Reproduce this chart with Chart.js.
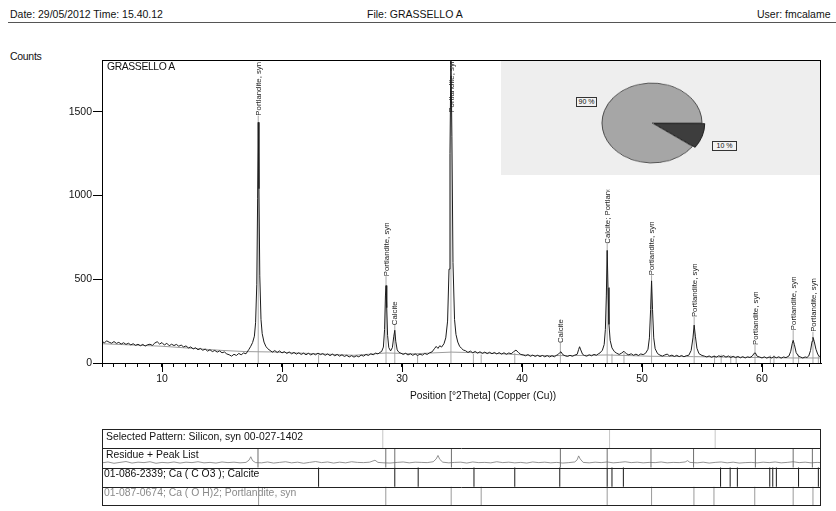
<!DOCTYPE html>
<html>
<head>
<meta charset="utf-8">
<script src="https://cdn.jsdelivr.net/npm/chart.js@4.4.1/dist/chart.umd.min.js"></script>
<style>
  html, body { margin:0; padding:0; background:#fff; }
  body { width:836px; height:511px; position:relative; overflow:hidden; font-family:"Liberation Sans", Arial, sans-serif; color:#111; }
  .t { position:absolute; white-space:nowrap; line-height:1; }
  canvas { position:absolute; }
</style>
</head>
<body>
<div class="t" style="left:10px;top:9px;font-size:10.5px;">Date: 29/05/2012 Time: 15.40.12</div>
<div class="t" style="left:367px;top:9px;font-size:10.5px;">File: GRASSELLO A</div>
<div class="t" style="left:757px;top:9px;font-size:10.5px;">User: fmcalame</div>
<div style="position:absolute;left:8px;top:22px;width:828px;height:0;border-top:1.5px solid #555;"></div>
<div class="t" style="left:10px;top:51px;font-size:10.5px;letter-spacing:-0.3px;">Counts</div>

<div id="pieBox" style="position:absolute;left:501px;top:61px;width:320px;height:114px;background:#eeeeee;"></div>
<canvas id="main" width="836" height="420" style="left:0;top:0;"></canvas>
<canvas id="pie" width="140" height="140" style="left:582px;top:53px;transform:scaleY(0.8);transform-origin:50% 50%;"></canvas>
<div class="t" style="left:576px;top:97px;width:19px;height:8px;border:1px solid #333;background:#f2f2f2;font-size:7px;text-align:center;line-height:8px;">90 %</div>
<div class="t" style="left:712px;top:141px;width:23px;height:8px;border:1px solid #333;background:#f2f2f2;font-size:7px;text-align:center;line-height:8px;">10 %</div>
<div class="t" style="left:107px;top:62px;font-size:10.4px;letter-spacing:-0.4px;">GRASSELLO A</div>
<div class="t" style="left:410px;top:391px;font-size:10.2px;">Position [°2Theta] (Copper (Cu))</div>

<canvas id="rows" width="836" height="91" style="left:0;top:420px;"></canvas>
<div class="t" style="left:106px;top:432px;font-size:10.4px;">Selected Pattern: Silicon, syn 00-027-1402</div>
<div class="t" style="left:106px;top:450px;font-size:10.4px;">Residue + Peak List</div>
<div class="t" style="left:104px;top:469px;font-size:10.4px;">01-086-2339; Ca ( C O3 ); Calcite</div>
<div class="t" style="left:104px;top:488px;font-size:10.4px;color:#8a8a8a;">01-087-0674; Ca ( O H)2; Portlandite, syn</div>

<script>
// ---------------- DATA ----------------
// measured scan: [position °2Theta, counts]
const scanPattern = [
 [5.0,128],[5.2,121],[5.4,132],[5.6,124],[5.8,118],[6.0,128],[6.2,117],[6.4,123],[6.6,113],[6.8,121],
 [7.0,111],[7.2,118],[7.4,108],[7.6,115],[7.8,105],[8.0,112],[8.2,103],[8.4,111],[8.6,101],[8.8,109],
 [9.0,112],[9.2,105],[9.4,119],[9.6,127],[9.8,113],[10.0,122],[10.2,107],[10.4,118],[10.6,103],[10.8,112],
 [11.0,104],[11.2,111],[11.4,100],[11.6,107],[11.8,96],[12.0,102],[12.2,90],[12.4,96],[12.6,84],[12.8,91],
 [13.0,79],[13.2,87],[13.4,76],[13.6,83],[13.8,71],[14.0,79],[14.2,68],[14.4,75],[14.6,65],[14.8,72],
 [15.0,61],[15.2,66],[15.4,54],[15.6,49],[15.8,41],[16.0,52],[16.2,45],[16.4,57],[16.6,49],[16.8,60],[17.0,55],
 [17.1,66],[17.25,82],[17.4,100],[17.55,122],[17.7,160],[17.8,240],[17.9,470],[17.97,980],[18.02,1436],
 [18.08,1040],[18.15,520],[18.25,260],[18.35,175],[18.5,125],[18.65,100],[18.8,86],
 [19.0,75],[19.2,65],[19.4,74],[19.6,63],[19.8,72],[20.0,60],[20.2,68],[20.4,57],[20.6,66],[20.8,55],
 [21.0,63],[21.2,53],[21.4,61],[21.6,51],[21.8,59],[22.0,49],[22.2,58],[22.4,48],[22.6,56],[22.8,49],
 [23.0,59],[23.2,50],[23.4,56],[23.6,46],[23.8,54],[24.0,44],[24.2,53],[24.4,43],[24.6,51],[24.8,41],
 [25.0,49],[25.2,39],[25.4,46],[25.6,36],[25.8,44],[26.0,35],[26.2,43],[26.4,37],[26.6,47],[26.8,41],
 [27.0,51],[27.2,45],[27.4,55],[27.6,49],[27.8,59],[28.0,54],[28.15,63],
 [28.3,68],[28.45,95],[28.55,200],[28.62,400],[28.67,462],[28.73,330],[28.8,165],[28.9,92],[29.05,72],
 [29.2,92],[29.32,160],[29.4,195],[29.48,130],[29.6,78],[29.75,63],
 [29.9,59],[30.1,51],[30.3,58],[30.5,48],[30.7,55],[30.9,46],[31.1,54],[31.3,45],[31.5,53],[31.7,47],
 [31.9,57],[32.1,51],[32.3,61],[32.5,66],[32.7,85],[32.85,99],[33.0,87],[33.15,103],
 [33.3,95],[33.5,115],[33.65,150],[33.8,250],[33.92,560],[34.0,1250],[34.08,1860],[34.16,1350],[34.25,600],
 [34.38,260],[34.5,170],[34.65,125],[34.8,100],[34.95,88],[35.1,78],
 [35.3,73],[35.5,63],[35.7,71],[35.9,61],[36.1,69],[36.3,59],[36.5,67],[36.7,57],[36.9,65],[37.1,56],
 [37.3,64],[37.5,55],[37.7,63],[37.9,54],[38.1,62],[38.3,53],[38.5,61],[38.7,52],[38.9,60],[39.1,55],
 [39.3,67],[39.5,77],[39.7,63],[39.9,51],[40.1,48],[40.3,43],[40.5,50],[40.7,40],[40.9,47],[41.1,39],
 [41.3,46],[41.5,38],[41.7,45],[41.9,37],[42.1,44],[42.3,36],[42.5,43],[42.7,37],[42.85,45],
 [43.0,50],[43.15,62],[43.25,67],[43.4,50],[43.6,43],[43.8,39],[44.0,46],[44.2,40],[44.4,47],
 [44.6,52],[44.72,80],[44.8,97],[44.9,78],[45.05,52],
 [45.2,45],[45.4,41],[45.6,49],[45.8,43],[46.0,51],[46.2,46],[46.35,54],
 [46.5,60],[46.7,76],[46.85,110],[46.95,200],[47.03,400],[47.1,672],[47.17,450],[47.25,230],[47.35,135],
 [47.5,90],[47.7,68],[47.9,58],
 [48.1,51],[48.3,59],[48.5,70],[48.7,55],[48.9,49],[49.1,55],[49.3,46],[49.5,53],[49.7,45],[49.9,54],[50.1,50],
 [50.3,58],[50.5,82],[50.62,150],[50.72,320],[50.8,490],[50.88,320],[50.98,150],[51.1,85],[51.3,56],
 [51.5,47],[51.7,41],[51.9,48],[52.1,53],[52.3,42],[52.5,47],[52.7,39],[52.9,46],[53.1,38],[53.3,45],
 [53.5,37],[53.7,44],
 [53.9,46],[54.1,75],[54.25,150],[54.35,226],[54.45,160],[54.58,88],[54.75,56],[55.0,45],
 [55.2,41],[55.4,36],[55.6,42],[55.8,34],[56.0,41],[56.2,35],[56.4,43],[56.6,37],[56.8,44],[57.0,35],
 [57.2,42],[57.4,33],[57.6,40],[57.8,32],[58.0,39],[58.2,31],[58.4,38],[58.6,30],[58.8,37],[59.0,33],
 [59.2,42],[59.35,58],[59.45,60],[59.6,40],
 [59.8,36],[60.0,30],[60.2,37],[60.4,29],[60.6,36],[60.8,30],[61.0,38],[61.2,31],[61.4,37],[61.6,29],
 [61.8,36],[62.0,32],
 [62.25,42],[62.4,70],[62.52,115],[62.6,135],[62.7,110],[62.85,62],[63.05,40],
 [63.2,36],[63.4,30],[63.6,36],[63.75,33],
 [63.9,42],[64.05,75],[64.18,130],[64.25,153],[64.35,130],[64.5,82],[64.65,52],[64.8,38],[64.95,30]
];

// fitted background line
const backgroundPos    = [5, 10, 15, 17, 19, 23, 26, 28.7, 31, 34.1, 37, 41, 44, 47.1, 50.8, 54.3, 58, 62.6, 65];
const backgroundCounts = [115, 100, 75, 68, 66, 55, 46, 60, 55, 65, 60, 45, 44, 48, 40, 38, 34, 30, 30];

// identified peaks and their labels
const peakPositions  = [18.02, 28.67, 29.4, 34.08, 43.2, 47.1, 50.8, 54.35, 59.42, 62.6, 64.25];
const peakLabels     = ["Portlandite, syn", "Portlandite, syn", "Calcite", "Portlandite, syn", "Calcite",
                        "Calcite; Portlandite, syn", "Portlandite, syn", "Portlandite, syn",
                        "Portlandite, syn", "Portlandite, syn", "Portlandite, syn"];
const labelBaseCounts = [1476, 518, 226, 1494, 119, 712, 524, 274, 107, 196, 186];

// short reference sticks on the scan
const refStickPositions = [23.05, 31.3, 35.95, 36.6, 39.4, 47.5, 48.5, 56.05, 56.6, 57.4, 57.85, 60.7, 61.0, 63.05, 64.7];
const refStickCounts    = [50, 50, 55, 50, 60, 55, 60, 45, 50, 45, 40, 45, 45, 50, 50];

// phase quantification (pie)
const phaseNames  = ["Portlandite, syn", "Calcite"];
const phaseShares = [90, 10];

// pattern list rows
const siliconLines     = [28.4, 47.3, 56.1];
const peakListLines    = [18.0, 28.65, 29.4, 34.12, 43.2, 47.1, 50.75, 54.3, 59.45, 62.6, 64.2];
const calciteLines     = [23.05, 29.4, 31.35, 36.0, 39.4, 43.15, 47.1, 47.5, 48.45, 56.55, 57.35, 57.95, 60.65, 60.9, 61.2, 63.05, 64.7];
const portlanditeLines = [18.05, 28.65, 34.1, 36.6, 47.1, 50.8, 54.33, 56.0, 59.4, 62.6, 64.25];

// residue trace: [position, counts]
const residuePattern = [
 [5,10],[5.5,14],[6,8],[6.5,12],[7,16],[7.5,9],[8,13],[8.5,11],[9,15],[9.5,8],[10,12],[10.5,10],[11,14],
 [11.5,9],[12,13],[12.5,11],[13,15],[13.5,10],[14,12],[14.5,9],[15,14],[15.5,11],[16,13],[16.5,10],[17,12],
 [17.25,22],[17.4,38],[17.55,20],[17.8,11],[18.3,10],[18.8,14],[19.3,9],[19.8,12],[20.3,15],[20.8,10],
 [21.3,13],[21.8,8],[22.3,12],[22.8,16],[23.3,11],[23.8,14],[24.3,9],[24.8,13],[25.3,10],[25.8,15],
 [26.3,12],[26.8,11],[27.3,13],[27.75,22],[28.0,12],[28.5,10],[29.0,9],[29.6,12],[30.1,14],[30.6,10],
 [31.1,13],[31.6,12],[32.1,11],[32.6,15],[32.85,28],[33.0,44],[33.15,26],[33.4,13],[33.9,10],[34.4,12],
 [34.9,13],[35.4,9],[35.9,14],[36.4,11],[36.9,12],[37.4,10],[37.9,15],[38.4,11],[38.9,13],[39.4,10],
 [39.9,12],[40.4,9],[40.9,14],[41.4,11],[41.9,13],[42.4,10],[42.9,12],[43.4,9],[43.9,11],[44.4,14],
 [44.6,24],[44.72,42],[44.85,28],[45.1,12],[45.6,10],[46.1,13],[46.6,11],[47.1,14],[47.6,10],[48.1,12],
 [48.6,15],[49.1,11],[49.6,13],[50.1,10],[50.6,12],[51.1,11],[51.6,14],[52.1,10],[52.6,12],[53.1,11],
 [53.6,14],[53.8,20],[54.0,12],[54.6,10],[55.1,13],[55.6,9],[56.1,12],[56.6,14],[57.1,10],[57.6,13],
 [58.1,9],[58.6,11],[59.1,12],[59.6,10],[60.1,13],[60.6,11],[61.1,14],[61.6,10],[62.1,12],[62.6,15],
 [63.1,11],[63.6,13],[64.1,10],[64.6,12],[64.9,11]
];

const xTickStep = 1, xLabelStep = 10;
const yTickValues = [0, 500, 1000, 1500];
const X_MIN = 5, X_MAX = 64.92, Y_MIN = 0, Y_MAX = 1808;

// ---------------- CHARTS ----------------
const FONT = '"Liberation Sans", Arial, sans-serif';
Chart.defaults.font.family = FONT;

function sticks(positions, lo, hiArr) {
  const out = [];
  positions.forEach((p, i) => {
    const hi = Array.isArray(hiArr) ? hiArr[i] : hiArr;
    out.push({x: p, y: lo}, {x: p, y: hi}, {x: p, y: null});
  });
  return out;
}

const mainPlugin = {
  id: 'mainDecor',
  afterDatasetsDraw(chart) {
    const {ctx, chartArea: a, scales: {x, y}} = chart;
    ctx.save();
    // frame
    ctx.strokeStyle = '#000'; ctx.lineWidth = 1;
    ctx.strokeRect(Math.round(a.left) + 0.5, Math.round(a.top) + 0.5, Math.round(a.right - a.left) - 1, Math.round(a.bottom - a.top));
    // major ticks
    for (let v = 10; v <= 60; v += xLabelStep) {
      const px = Math.round(x.getPixelForValue(v)) + 0.5;
      ctx.beginPath(); ctx.moveTo(px, a.bottom); ctx.lineTo(px, a.bottom + 9); ctx.stroke();
    }
    // peak labels
    ctx.beginPath(); ctx.rect(a.left, a.top, a.right - a.left, a.bottom - a.top); ctx.clip();
    ctx.font = '7.8px ' + FONT; ctx.fillStyle = '#1a1a1a';
    ctx.textAlign = 'left'; ctx.textBaseline = 'middle';
    peakPositions.forEach((p, i) => {
      const px = x.getPixelForValue(p), py = y.getPixelForValue(labelBaseCounts[i]);
      ctx.save();
      ctx.translate(px + 0.5, py);
      ctx.rotate(-Math.PI / 2);
      ctx.beginPath(); ctx.rect(0, -6, 54, 12); ctx.clip();
      ctx.fillText(peakLabels[i], 0, 0);
      ctx.restore();
    });
    ctx.restore();
  }
};

new Chart(document.getElementById('main'), {
  type: 'line',
  data: {
    datasets: [
      { label: 'Peak markers', data: sticks(peakPositions, 0, labelBaseCounts).concat(sticks(refStickPositions, 0, refStickCounts)),
        borderColor: '#a9a9a9', borderWidth: 1, pointRadius: 0, spanGaps: false, order: 3 },
      { label: 'Background', data: backgroundPos.map((p, i) => ({x: p, y: backgroundCounts[i]})),
        borderColor: '#9c9c9c', borderWidth: 1, pointRadius: 0, order: 2 },
      { label: 'GRASSELLO A', data: scanPattern.map(([p, c]) => ({x: p, y: c})),
        borderColor: '#1c1c1c', borderWidth: 1, pointRadius: 0, tension: 0, order: 1 }
    ]
  },
  options: {
    responsive: false, animation: false, events: [],
    layout: { padding: { top: 60, right: 15, left: 0, bottom: 0 } },
    plugins: { legend: { display: false }, tooltip: { enabled: false } },
    scales: {
      x: {
        type: 'linear', min: X_MIN, max: X_MAX,
        afterFit: s => { s.height = 57; },
        border: { display: true, color: '#000', width: 1 },
        grid: { drawOnChartArea: false, drawTicks: true, tickLength: 4, color: '#000', lineWidth: 1 },
        ticks: { stepSize: xTickStep, includeBounds: false, autoSkip: false, maxRotation: 0, padding: 6,
                 color: '#111', font: { size: 10.5, family: FONT },
                 callback: v => (v % xLabelStep === 0 ? String(v) : '') }
      },
      y: {
        type: 'linear', min: Y_MIN, max: Y_MAX,
        afterFit: s => { s.width = 102; },
        afterBuildTicks: s => { s.ticks = yTickValues.map(v => ({ value: v })); },
        border: { display: true, color: '#000', width: 1 },
        grid: { drawOnChartArea: false, drawTicks: true, tickLength: 9, color: '#000', lineWidth: 1 },
        ticks: { padding: 1, color: '#111', font: { size: 10.5, family: FONT }, callback: v => String(v) }
      }
    }
  },
  plugins: [mainPlugin]
});

new Chart(document.getElementById('pie'), {
  type: 'pie',
  data: { labels: phaseNames, datasets: [{ data: phaseShares,
    backgroundColor: ['#a6a6a6', '#3d3d3d'], borderColor: ['#4a4a4a', '#1e1e1e'], borderWidth: 1,
    offset: [0, 8], radius: 50 }] },
  options: { responsive: false, animation: false, events: [], rotation: 126, radius: 50,
    layout: { padding: 0 },
    plugins: { legend: { display: false }, tooltip: { enabled: false } } }
});

const rowsPlugin = {
  id: 'rowsDecor',
  afterDatasetsDraw(chart) {
    const {ctx, chartArea: a, scales: {y}} = chart;
    ctx.save();
    ctx.strokeStyle = '#222'; ctx.lineWidth = 1;
    [1, 2, 3].forEach(v => {
      const py = Math.round(y.getPixelForValue(v)) + 0.5;
      ctx.beginPath(); ctx.moveTo(a.left, py); ctx.lineTo(a.right, py); ctx.stroke();
    });
    ctx.strokeRect(Math.round(a.left) + 0.5, Math.round(a.top) + 0.5, Math.round(a.right - a.left) - 1, Math.round(a.bottom - a.top) - 1);
    ctx.restore();
  }
};

new Chart(document.getElementById('rows'), {
  type: 'line',
  data: {
    datasets: [
      { label: 'Silicon', data: sticks(siliconLines, 3, 4), borderColor: '#c6c6c6', borderWidth: 1, pointRadius: 0, spanGaps: false },
      { label: 'Peak List', data: sticks(peakListLines, 2, 3), borderColor: '#6e6e6e', borderWidth: 1, pointRadius: 0, spanGaps: false },
      { label: 'Calcite', data: sticks(calciteLines, 1, 2), borderColor: '#1a1a1a', borderWidth: 1, pointRadius: 0, spanGaps: false },
      { label: 'Portlandite', data: sticks(portlanditeLines, 0, 1), borderColor: '#9a9a9a', borderWidth: 1, pointRadius: 0, spanGaps: false },
      { label: 'Residue', data: residuePattern.map(([p, c]) => ({x: p, y: c})), yAxisID: 'yr',
        borderColor: '#777', borderWidth: 0.8, pointRadius: 0 }
    ]
  },
  options: {
    responsive: false, animation: false, events: [],
    layout: { padding: { top: 9, bottom: 5, left: 102, right: 15 } },
    plugins: { legend: { display: false }, tooltip: { enabled: false } },
    scales: {
      x: { type: 'linear', min: X_MIN, max: X_MAX, display: false },
      y: { type: 'linear', min: 0, max: 4, display: false },
      yr: { type: 'linear', min: -189, max: 166, display: false }
    }
  },
  plugins: [rowsPlugin]
});
</script>
</body>
</html>
